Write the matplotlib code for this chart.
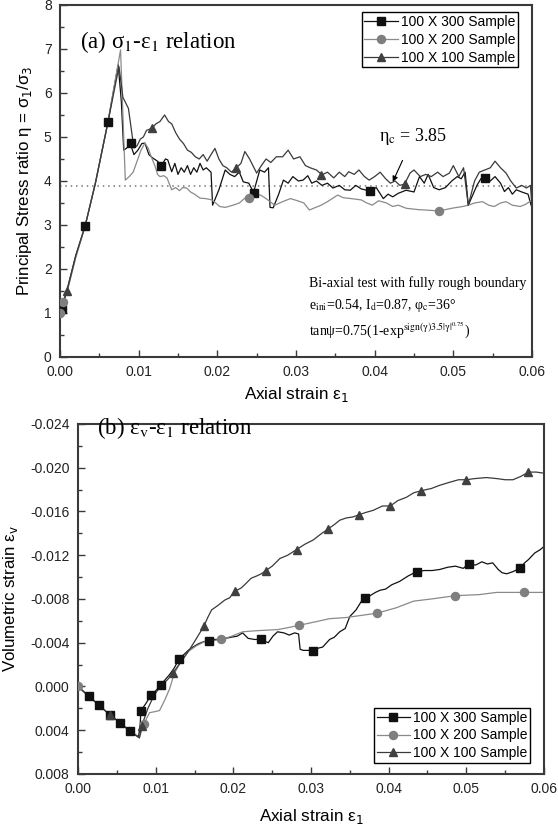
import numpy as np
import matplotlib
matplotlib.use("Agg")
import matplotlib.pyplot as plt
from matplotlib.ticker import MultipleLocator, FormatStrFormatter
from matplotlib.lines import Line2D

plt.rcParams['font.family'] = ['Liberation Sans', 'DejaVu Sans']
plt.rcParams['axes.unicode_minus'] = False

labels = ["100 X 300 Sample", "100 X 200 Sample", "100 X 100 Sample"]

# ---- panel (a): stress ratio vs axial strain, (strain, eta) pairs ----
eta_300 = [(0, 1.0), (0.001, 1.6), (0.002, 2.3), (0.0032, 2.98), (0.0045, 3.95), (0.0061, 5.34),
           (0.0074, 6.64), (0.0078, 5.8), (0.0081, 4.7), (0.0085, 4.75), (0.0089, 4.87), (0.0094, 4.6),
           (0.0099, 4.7), (0.0104, 4.85), (0.0108, 4.86), (0.0113, 4.6), (0.0118, 4.52), (0.0124, 4.45),
           (0.0129, 4.35), (0.0134, 4.5), (0.0137, 4.48), (0.0142, 4.21), (0.0146, 4.4), (0.0150, 4.15),
           (0.0154, 4.3), (0.0158, 4.2), (0.0162, 4.35), (0.0166, 4.15), (0.0170, 4.3), (0.0174, 4.2),
           (0.0178, 4.4), (0.0182, 4.25), (0.0186, 4.3), (0.0192, 4.2), (0.0194, 3.45), (0.0202, 3.8),
           (0.0210, 4.25), (0.0216, 4.15), (0.0222, 4.1), (0.0228, 4.2), (0.0233, 3.98), (0.0240, 3.95),
           (0.0246, 3.74), (0.0254, 4.25), (0.0260, 4.2), (0.0265, 4.3), (0.0267, 3.4), (0.0271, 3.39),
           (0.0278, 3.7), (0.0284, 4.02), (0.0290, 3.95), (0.0296, 4.1), (0.0303, 4.0), (0.0309, 4.02),
           (0.0315, 4.12), (0.0320, 3.95), (0.0326, 4.0), (0.0333, 3.9), (0.0340, 3.95), (0.0347, 3.84),
           (0.0355, 3.9), (0.0362, 3.8), (0.0369, 3.79), (0.0376, 3.9), (0.0383, 3.82), (0.0394, 3.77),
           (0.0402, 3.85), (0.0411, 3.6), (0.0417, 3.7), (0.0423, 3.64), (0.0430, 3.72), (0.0440, 3.79),
           (0.0450, 3.75), (0.0457, 4.1), (0.0463, 3.95), (0.0468, 4.15), (0.0475, 3.85), (0.0482, 3.8),
           (0.0490, 3.85), (0.0498, 4.0), (0.0505, 4.1), (0.0510, 4.05), (0.0515, 4.2), (0.0519, 3.45),
           (0.0530, 3.9), (0.0535, 4.05), (0.0540, 4.07), (0.0547, 4.0), (0.0553, 4.1), (0.0560, 3.95),
           (0.0565, 3.76), (0.0570, 3.85), (0.0575, 3.7), (0.0580, 3.8), (0.0587, 3.75), (0.0595, 3.7),
           (0.0598, 3.5), (0.0600, 3.39)]

eta_200 = [(0, 1.0), (0.001, 1.55), (0.002, 2.25), (0.0032, 2.98), (0.0045, 3.95), (0.0060, 5.25),
           (0.0077, 6.98), (0.0083, 4.02), (0.0088, 4.1), (0.0093, 4.2), (0.0098, 4.45), (0.0103, 4.7),
           (0.0108, 4.86), (0.0112, 4.75), (0.0116, 4.55), (0.0121, 4.33), (0.0124, 4.15), (0.0127, 4.1),
           (0.0132, 4.12), (0.0136, 4.07), (0.0142, 3.8), (0.0147, 3.85), (0.0152, 3.78), (0.0156, 3.85),
           (0.0161, 3.84), (0.0166, 3.75), (0.0171, 3.7), (0.0178, 3.61), (0.0185, 3.6), (0.0193, 3.57),
           (0.0198, 3.5), (0.0203, 3.42), (0.0210, 3.4), (0.0220, 3.45), (0.0228, 3.5), (0.0237, 3.64),
           (0.0245, 3.68), (0.0255, 3.68), (0.0262, 3.6), (0.0267, 3.53), (0.0273, 3.45), (0.0283, 3.53),
           (0.0293, 3.6), (0.0302, 3.55), (0.0310, 3.5), (0.0317, 3.34), (0.0325, 3.4), (0.0332, 3.45),
           (0.0340, 3.53), (0.0353, 3.68), (0.0360, 3.62), (0.0370, 3.6), (0.0383, 3.57), (0.0390, 3.5),
           (0.0397, 3.45), (0.0405, 3.55), (0.0415, 3.5), (0.0423, 3.42), (0.0430, 3.45), (0.0440, 3.38),
           (0.0455, 3.35), (0.0482, 3.32), (0.0490, 3.35), (0.0498, 3.38), (0.0505, 3.4), (0.0512, 3.42),
           (0.0519, 3.45), (0.0527, 3.5), (0.0537, 3.53), (0.0545, 3.45), (0.0552, 3.42), (0.0560, 3.5),
           (0.0567, 3.53), (0.0575, 3.45), (0.0585, 3.42), (0.0592, 3.47), (0.0600, 3.57)]

eta_100 = [(0, 1.0), (0.0009, 1.5), (0.002, 2.3), (0.0032, 2.98), (0.0045, 3.95), (0.0061, 5.34),
           (0.0075, 6.6), (0.0080, 5.9), (0.0087, 5.65), (0.0092, 5.0), (0.0094, 4.75), (0.0098, 4.8),
           (0.0102, 4.95), (0.0106, 5.0), (0.0110, 5.15), (0.0117, 5.2), (0.0122, 5.3), (0.0127, 5.35),
           (0.0133, 5.5), (0.0138, 5.35), (0.0142, 5.3), (0.0147, 5.1), (0.0152, 4.95), (0.0157, 4.85),
           (0.0162, 4.7), (0.0167, 4.65), (0.0172, 4.55), (0.0177, 4.5), (0.0182, 4.6), (0.0187, 4.45),
           (0.0192, 4.6), (0.0197, 4.74), (0.0202, 4.5), (0.0207, 4.35), (0.0212, 4.3), (0.0218, 4.2),
           (0.0224, 4.3), (0.0230, 4.4), (0.0235, 4.67), (0.0241, 4.5), (0.0250, 4.18), (0.0256, 4.35),
           (0.0262, 4.5), (0.0268, 4.42), (0.0275, 4.55), (0.0283, 4.55), (0.0290, 4.7), (0.0297, 4.5),
           (0.0305, 4.55), (0.0312, 4.35), (0.0318, 4.3), (0.0326, 4.25), (0.0333, 4.14), (0.0340, 4.2),
           (0.0348, 4.07), (0.0355, 4.2), (0.0362, 4.1), (0.0367, 4.21), (0.0374, 4.15), (0.0380, 4.25),
           (0.0387, 4.1), (0.0393, 4.02), (0.0400, 4.1), (0.0407, 4.2), (0.0414, 4.05), (0.0420, 3.95),
           (0.0426, 4.0), (0.0432, 3.9), (0.0438, 3.93), (0.0445, 4.18), (0.0450, 4.25), (0.0458, 4.1),
           (0.0465, 4.15), (0.0472, 4.1), (0.0480, 4.2), (0.0487, 4.1), (0.0495, 4.18), (0.0500, 4.35),
           (0.0507, 4.1), (0.0513, 4.3), (0.0519, 3.45), (0.0527, 4.0), (0.0533, 4.2), (0.0540, 4.25),
           (0.0547, 4.3), (0.0553, 4.45), (0.0560, 4.3), (0.0567, 4.18), (0.0573, 4.0), (0.0580, 3.84),
           (0.0587, 3.9), (0.0593, 3.84), (0.0598, 3.9), (0.0600, 3.42)]

mk_eta_300 = [(0.0003, 1.1), (0.0032, 2.98), (0.0061, 5.34), (0.0090, 4.86), (0.0128, 4.35),
              (0.0247, 3.73), (0.0394, 3.77), (0.0540, 4.07)]
mk_eta_200 = [(0.0000, 1.0), (0.0004, 1.26), (0.0240, 3.62), (0.0482, 3.32)]
mk_eta_100 = [(0.0009, 1.5), (0.0117, 5.2), (0.0224, 4.3), (0.0332, 4.14), (0.0439, 3.93)]

eta_c_line = 3.89

# ---- panel (b): volumetric strain vs axial strain ----
vol_300 = [(0, 0), (0.0014, 0.0009), (0.0027, 0.0017), (0.0041, 0.0026), (0.0054, 0.0033), (0.0067, 0.0041),
           (0.0078, 0.0046), (0.0080, 0.0035), (0.0081, 0.0022), (0.0087, 0.0016), (0.0094, 0.0008),
           (0.0100, 0.0004), (0.0106, -0.0001), (0.0112, -0.0006), (0.0118, -0.0011), (0.0124, -0.0017),
           (0.0130, -0.0025), (0.0136, -0.0029), (0.0142, -0.0033), (0.0148, -0.0036), (0.0155, -0.0039),
           (0.0162, -0.0041), (0.0169, -0.0042), (0.0175, -0.0043), (0.0182, -0.0043), (0.0190, -0.0044),
           (0.0197, -0.0045), (0.0205, -0.0046), (0.0212, -0.0049), (0.0219, -0.0044), (0.0227, -0.0043),
           (0.0235, -0.0043), (0.0245, -0.0040), (0.0251, -0.0046), (0.0257, -0.0050), (0.0265, -0.0049),
           (0.0272, -0.0047), (0.0279, -0.0049), (0.0284, -0.0048), (0.0286, -0.0034), (0.0290, -0.0033),
           (0.0297, -0.0033), (0.0303, -0.0032), (0.0309, -0.0035), (0.0315, -0.0036), (0.0324, -0.0043),
           (0.0330, -0.0045), (0.0337, -0.0050), (0.0344, -0.0053), (0.0350, -0.0064), (0.0358, -0.0070),
           (0.0365, -0.0078), (0.0369, -0.0081), (0.0376, -0.0083), (0.0383, -0.0086), (0.0389, -0.0088),
           (0.0396, -0.0089), (0.0404, -0.0093), (0.0414, -0.0096), (0.0425, -0.0101), (0.0436, -0.0105),
           (0.0446, -0.0106), (0.0456, -0.0106), (0.0466, -0.0107), (0.0476, -0.0109), (0.0486, -0.0110),
           (0.0496, -0.0108), (0.0503, -0.0112), (0.0512, -0.0111), (0.0520, -0.0114), (0.0527, -0.0112),
           (0.0534, -0.0113), (0.0541, -0.0107), (0.0546, -0.0104), (0.0552, -0.0103), (0.0560, -0.0105),
           (0.0569, -0.0108), (0.0575, -0.0113), (0.0580, -0.0116), (0.0588, -0.0122), (0.0595, -0.0125),
           (0.0600, -0.0128)]

vol_200 = [(0, 0), (0.0014, 0.0009), (0.0027, 0.0017), (0.0041, 0.0026), (0.0054, 0.0033), (0.0067, 0.0041),
           (0.0079, 0.0047), (0.0085, 0.0034), (0.0092, 0.0024), (0.0099, 0.0023), (0.0105, 0.0022),
           (0.0112, 0.0012), (0.0118, 0.0002), (0.0124, -0.0012), (0.0132, -0.0022), (0.0142, -0.0032),
           (0.0152, -0.0037), (0.0163, -0.0041), (0.0175, -0.0042), (0.0185, -0.0043), (0.0198, -0.0046),
           (0.0212, -0.0050), (0.0230, -0.0051), (0.0257, -0.0052), (0.0272, -0.0054), (0.0285, -0.0056),
           (0.0305, -0.0059), (0.0324, -0.0062), (0.0345, -0.0063), (0.0365, -0.0065), (0.0385, -0.0067),
           (0.0410, -0.0072), (0.0432, -0.0078), (0.0455, -0.0080), (0.0486, -0.0083), (0.0517, -0.0084),
           (0.0539, -0.0086), (0.0574, -0.0086), (0.0600, -0.0086)]

vol_100 = [(0, 0), (0.0014, 0.0009), (0.0027, 0.0017), (0.0041, 0.0026), (0.0054, 0.0033), (0.0067, 0.0041),
           (0.0079, 0.0047), (0.0082, 0.0036), (0.0090, 0.0020), (0.0098, 0.0008), (0.0107, -0.0001),
           (0.0115, -0.0006), (0.0122, -0.0012), (0.0130, -0.0020), (0.0137, -0.0027), (0.0142, -0.0032),
           (0.0150, -0.0041), (0.0156, -0.0048), (0.0162, -0.0055), (0.0167, -0.0063), (0.0172, -0.0070),
           (0.0180, -0.0074), (0.0189, -0.0079), (0.0195, -0.0081), (0.0202, -0.0087), (0.0210, -0.0090),
           (0.0216, -0.0094), (0.0223, -0.0099), (0.0230, -0.0101), (0.0236, -0.0103), (0.0242, -0.0106),
           (0.0250, -0.0110), (0.0260, -0.0117), (0.0270, -0.0120), (0.0281, -0.0125), (0.0292, -0.0130),
           (0.0303, -0.0134), (0.0312, -0.0139), (0.0322, -0.0144), (0.0330, -0.0148), (0.0337, -0.0152),
           (0.0345, -0.0154), (0.0354, -0.0155), (0.0362, -0.0157), (0.0370, -0.0159), (0.0380, -0.0161),
           (0.0392, -0.0165), (0.0402, -0.0165), (0.0412, -0.0170), (0.0423, -0.0173), (0.0432, -0.0177),
           (0.0442, -0.0179), (0.0455, -0.0181), (0.0466, -0.0184), (0.0480, -0.0187), (0.0490, -0.0189),
           (0.0500, -0.0189), (0.0510, -0.0190), (0.0526, -0.0191), (0.0540, -0.0190), (0.0550, -0.0189),
           (0.0560, -0.0189), (0.0570, -0.0192), (0.0580, -0.0196), (0.0590, -0.0196), (0.0600, -0.0195)]

mk_vol_300 = [(0.00137, 0.0009), (0.00266, 0.0017), (0.0041, 0.0026), (0.00536, 0.0033), (0.0067, 0.0041),
              (0.0081, 0.0022), (0.00935, 0.0008), (0.01064, -0.0001), (0.0130, -0.0025), (0.01686, -0.0042),
              (0.0235, -0.0043), (0.0303, -0.0032), (0.0369, -0.0081), (0.0436, -0.0105), (0.0503, -0.0112),
              (0.0569, -0.0108)]
mk_vol_200 = [(0.0, 0.0), (0.00845, 0.0034), (0.01845, -0.0043), (0.0285, -0.0056), (0.0385, -0.0067),
              (0.0486, -0.0083), (0.0574, -0.0086)]
mk_vol_100 = [(0.0041, 0.0026), (0.00824, 0.0036), (0.01223, -0.0012), (0.0162, -0.0055), (0.02016, -0.0087),
              (0.02424, -0.0106), (0.02815, -0.0125), (0.0322, -0.0144), (0.0362, -0.0157), (0.0402, -0.0165),
              (0.0442, -0.0179), (0.0500, -0.0189), (0.0580, -0.0196)]

line_cols = ['#111111', '#8a8a8a', '#3a3a3a']
mk_cols = ['#111111', '#7f7f7f', '#404040']
mk_shapes = ['s', 'o', '^']
spine_col = '#3a3a3a'


def style_axes(ax):
    for s in ax.spines.values():
        s.set_color(spine_col)
        s.set_linewidth(1.5)
    ax.tick_params(which='both', direction='in', top=False, right=False, labelsize=10,
                   colors=spine_col, labelcolor='#222222', width=1.0)
    ax.tick_params(which='major', length=5, pad=6)
    ax.tick_params(which='minor', length=3)


def draw_series(ax, lines, markers):
    for i in range(3):
        d = np.array(lines[i])
        m = np.array(markers[i])
        ax.plot(d[:, 0], d[:, 1], color=line_cols[i], lw=0.9, zorder=2)
        ax.plot(m[:, 0], m[:, 1], linestyle='none', marker=mk_shapes[i], color=mk_cols[i],
                markersize=5.8, zorder=3)


def add_legend(ax, loc, anchor):
    handles = [Line2D([], [], color=line_cols[i], lw=0.9, marker=mk_shapes[i],
                      markerfacecolor=mk_cols[i], markeredgecolor=mk_cols[i], markersize=5.8)
               for i in range(3)]
    leg = ax.legend(handles, labels, loc=loc, bbox_to_anchor=anchor, borderaxespad=0,
                    fontsize=10, handlelength=2.4, handletextpad=0.2, labelspacing=0.28,
                    borderpad=0.2, fancybox=False, framealpha=1, edgecolor='black')
    leg.get_frame().set_linewidth(1.0)


fig = plt.figure(figsize=(5.58, 8.30), dpi=100)

# ---------------- panel (a) ----------------
ax1 = fig.add_axes([0.1075, 0.5699, 0.8459, 0.4241])
style_axes(ax1)
draw_series(ax1, [eta_300, eta_200, eta_100], [mk_eta_300, mk_eta_200, mk_eta_100])
ax1.axhline(eta_c_line, color='#777777', lw=1.1, ls=(0, (1, 2.5)), zorder=1)
ax1.set_xlim(0, 0.06)
ax1.set_ylim(0, 8)
ax1.xaxis.set_major_locator(MultipleLocator(0.01))
ax1.xaxis.set_minor_locator(MultipleLocator(0.005))
ax1.xaxis.set_major_formatter(FormatStrFormatter('%.2f'))
ax1.yaxis.set_major_locator(MultipleLocator(1))
ax1.yaxis.set_minor_locator(MultipleLocator(0.5))
ax1.set_xlabel('Axial strain ε$_1$', fontsize=12.3, labelpad=4, math_fontfamily='dejavusans')
ax1.set_ylabel('Principal Stress ratio η = σ$_1$/σ$_3$', fontsize=12.2, labelpad=7,
               math_fontfamily='dejavusans')
ax1.text(0.0025, 7.16, '(a) σ$_1$-ε$_1$ relation', fontsize=16.5, family='Liberation Serif',
         va='center', math_fontfamily='stix')
ax1.annotate('η$_{\\rm c}$ = 3.85', xy=(0.0423, 3.98), xytext=(0.0449, 5.0),
             fontsize=13, family='Liberation Serif', ha='center', va='center', math_fontfamily='stix',
             arrowprops=dict(arrowstyle='-|>', color='black', lw=0.8, mutation_scale=8,
                             shrinkA=8, shrinkB=0))
note_kw = dict(fontsize=10, family='Liberation Serif', math_fontfamily='stix', va='center')
ax1.text(0.0316, 1.68, 'Bi-axial test with fully rough boundary', **note_kw)
ax1.text(0.0316, 1.18, 'e$_{\\rm ini}$=0.54, I$_{\\rm d}$=0.87, φ$_{\\rm c}$=36°', **note_kw)
ax1.text(0.0316, 0.62, 'tanψ=0.75(1-exp$^{\\rm sign(\\gamma)3.5|\\gamma|^{0.75}}$)', **note_kw)
add_legend(ax1, 'upper right', (0.970, 0.980))

# ---------------- panel (b) ----------------
ax2 = fig.add_axes([0.1398, 0.0675, 0.8351, 0.4217])
style_axes(ax2)
draw_series(ax2, [vol_300, vol_200, vol_100], [mk_vol_300, mk_vol_200, mk_vol_100])
ax2.set_xlim(0, 0.06)
ax2.set_ylim(0.008, -0.024)
ax2.xaxis.set_major_locator(MultipleLocator(0.01))
ax2.xaxis.set_minor_locator(MultipleLocator(0.005))
ax2.xaxis.set_major_formatter(FormatStrFormatter('%.2f'))
ax2.yaxis.set_major_locator(MultipleLocator(0.004))
ax2.yaxis.set_minor_locator(MultipleLocator(0.002))
ax2.yaxis.set_major_formatter(FormatStrFormatter('%.3f'))
ax2.set_xlabel('Axial strain ε$_1$', fontsize=12.3, labelpad=8, math_fontfamily='dejavusans')
ax2.set_ylabel('Volumetric strain ε$_{\\rm v}$', fontsize=12.2, labelpad=7, math_fontfamily='dejavusans')
ax2.text(0.00245, -0.0236, '(b) ε$_{\\rm v}$-ε$_1$ relation', fontsize=16.5, family='Liberation Serif',
         va='center', math_fontfamily='stix', zorder=5)
add_legend(ax2, 'lower right', (0.970, 0.031))

fig.savefig('out.png', dpi=100, facecolor='white')
